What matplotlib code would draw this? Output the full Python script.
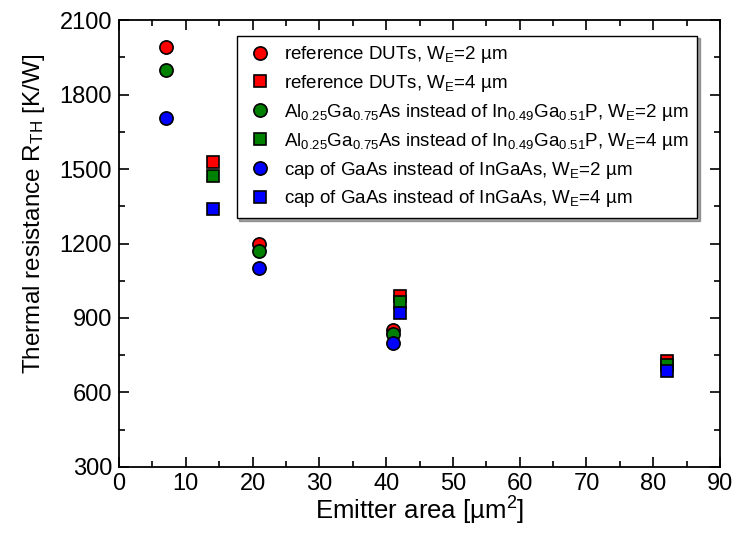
import matplotlib
matplotlib.use("Agg")
import matplotlib.pyplot as plt
from matplotlib.ticker import MultipleLocator

# emitter areas (um^2)
area_w2 = [7, 21, 41]
area_w4 = [14, 42, 82]

# thermal resistance (K/W)
ref_w2 = [1990, 1200, 850]
ref_w4 = [1530, 990, 725]
algaas_w2 = [1900, 1170, 835]
algaas_w4 = [1470, 965, 710]
gaascap_w2 = [1705, 1100, 800]
gaascap_w4 = [1340, 920, 688]

labels = [
    "reference DUTs, W$_\\mathregular{E}$=2 µm",
    "reference DUTs, W$_\\mathregular{E}$=4 µm",
    "Al$_\\mathregular{0.25}$Ga$_\\mathregular{0.75}$As instead of In$_\\mathregular{0.49}$Ga$_\\mathregular{0.51}$P, W$_\\mathregular{E}$=2 µm",
    "Al$_\\mathregular{0.25}$Ga$_\\mathregular{0.75}$As instead of In$_\\mathregular{0.49}$Ga$_\\mathregular{0.51}$P, W$_\\mathregular{E}$=4 µm",
    "cap of GaAs instead of InGaAs, W$_\\mathregular{E}$=2 µm",
    "cap of GaAs instead of InGaAs, W$_\\mathregular{E}$=4 µm",
]

plt.rcParams["font.family"] = ["Liberation Sans", "DejaVu Sans"]
plt.rcParams["mathtext.fontset"] = "custom"
plt.rcParams["mathtext.rm"] = "Liberation Sans"
plt.rcParams["mathtext.default"] = "regular"

fig = plt.figure(figsize=(7.37, 5.34), dpi=100)
ax = fig.add_axes([0.1615, 0.1255, 0.8155, 0.837])

series = [
    (area_w2, ref_w2, "o", "#ff0000", 9.5),
    (area_w4, ref_w4, "s", "#ff0000", 8),
    (area_w2, algaas_w2, "o", "#008000", 9.5),
    (area_w4, algaas_w4, "s", "#008000", 8),
    (area_w2, gaascap_w2, "o", "#0000ff", 9.5),
    (area_w4, gaascap_w4, "s", "#0000ff", 8),
]
for (x, y, m, c, ms), lab in zip(series, labels):
    ax.plot(x, y, linestyle="none", marker=m, markersize=ms, markerfacecolor=c,
            markeredgecolor="black", markeredgewidth=1.2, label=lab)

ax.set_xlim(0, 90)
ax.set_ylim(300, 2100)
ax.xaxis.set_major_locator(MultipleLocator(10))
ax.xaxis.set_minor_locator(MultipleLocator(5))
ax.yaxis.set_major_locator(MultipleLocator(300))
ax.yaxis.set_minor_locator(MultipleLocator(150))
ax.tick_params(which="both", direction="in", top=True, right=True, width=1.2)
ax.tick_params(which="major", length=7, labelsize=17)
ax.tick_params(axis="x", which="major", pad=4)
ax.tick_params(axis="y", which="major", pad=5)
ax.tick_params(which="minor", length=4)
for s in ax.spines.values():
    s.set_linewidth(1.3)

ax.set_xlabel("Emitter area [µm$^\\mathregular{2}$]", fontsize=18.5, labelpad=0)
ax.set_ylabel("Thermal resistance R$_\\mathregular{TH}$ [K/W]", fontsize=17.5)
ax.yaxis.set_label_coords(-0.12, 0.566)

leg = ax.legend(loc="upper right", bbox_to_anchor=(0.978, 0.986), fontsize=13.5,
                frameon=True, fancybox=False, shadow=True, edgecolor="black",
                framealpha=1, labelspacing=0.42, handletextpad=0.5, borderpad=0.45,
                handlelength=1.6)
leg.get_frame().set_linewidth(1.0)

fig.savefig("out.png", dpi=100)
